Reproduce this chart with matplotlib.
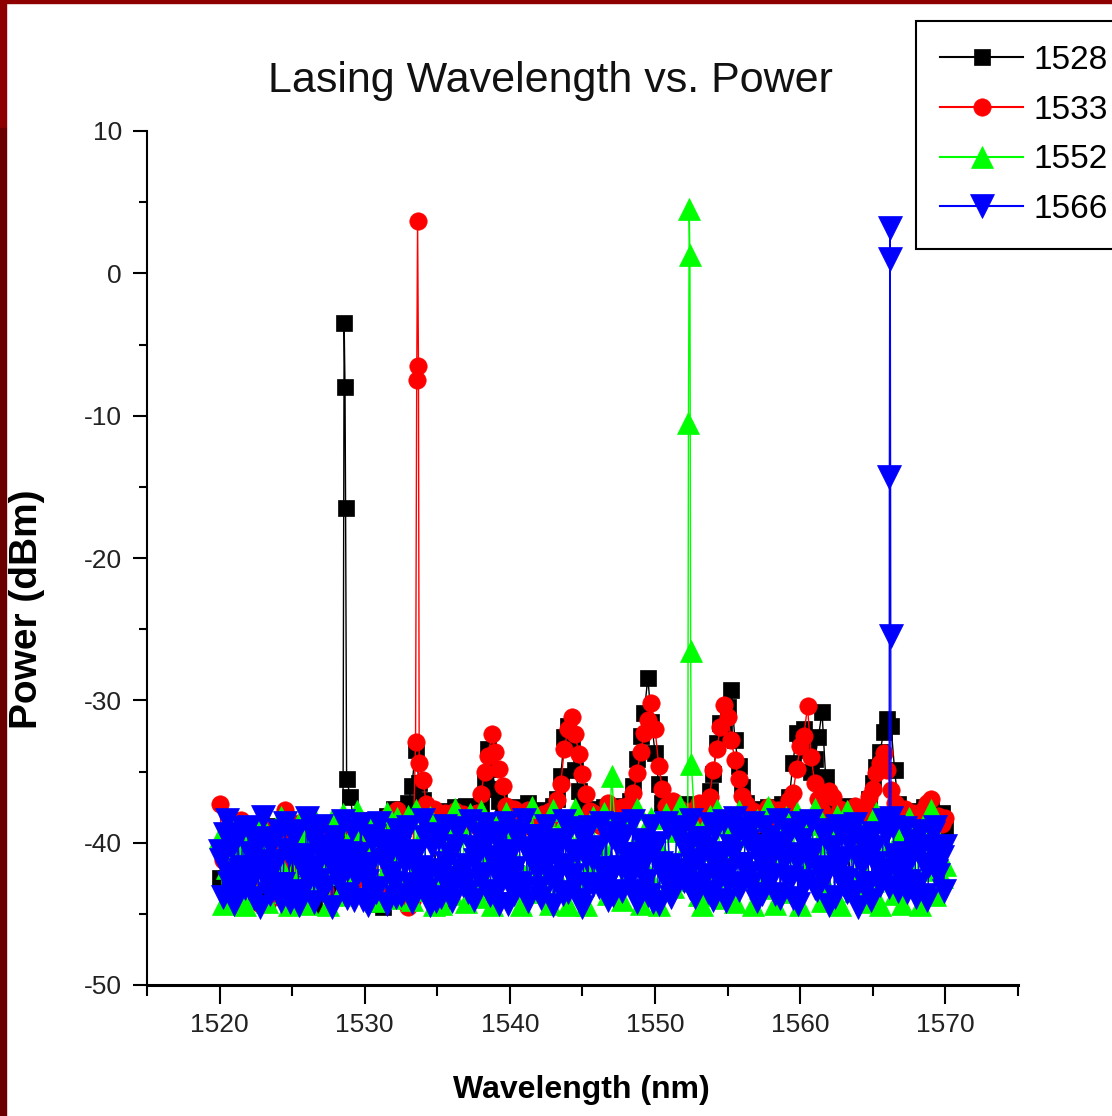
import numpy as np
import matplotlib
matplotlib.use("Agg")
import matplotlib.pyplot as plt
from matplotlib import font_manager
from matplotlib.patches import Rectangle
from matplotlib.ticker import MultipleLocator

# DATA ==================================================================================

# OSA sweep grid, 1520..1570 nm in 0.25 nm steps (201 samples)
wavelength = np.linspace(1520, 1570, 201)
# the 1566 trace was recorded twice as dense (0.125 nm steps)
wavelength_fine = np.linspace(1520, 1570, 401)

p_1528 = [
    -42.5, -40.3, -43.6, -39.1, -41.8, -44.0, -40.6, -38.9, -42.7, -41.2,
    -43.9, -39.7, -41.5, -44.2, -38.8, -42.3, -40.1, -43.4, -39.5, -41.9,
    -44.1, -40.8, -38.7, -42.9, -43.7, -44.3, -44.4, -41.0, -39.3, -42.4,
    -40.2, -43.5, -38.9, -41.4, -39.8, -35.5, -36.8, -38.6, -39.4, -41.6,
    -38.8, -43.0, -38.4, -40.5, -44.3, -44.5, -38.1, -39.2, -37.6, -38.3,
    -37.8, -38.5, -37.2, -36.0, -33.5, -35.8, -37.0, -37.9, -38.4, -38.9,
    -43.9, -44.4, -38.2, -37.8, -38.6, -37.5, -38.9, -38.1, -37.4, -38.3,
    -37.7, -38.5, -37.3, -35.6, -33.4, -34.8, -36.2, -37.1, -38.0, -37.6,
    -38.2, -37.5, -38.8, -37.9, -38.4, -37.2, -38.6, -38.0, -37.7, -38.5,
    -37.8, -38.3, -37.4, -36.9, -35.3, -32.6, -31.8, -33.2, -34.9, -36.4,
    -37.3, -38.1, -37.6, -38.4, -37.9, -38.7, -37.5, -38.2, -37.8, -38.6,
    -37.4, -38.3, -37.9, -37.1, -36.0, -34.1, -32.5, -30.9, -28.4, -31.5,
    -33.7, -35.9, -37.2, -38.1, -37.6, -38.5, -37.8, -38.2, -37.3, -38.0,
    -37.7, -38.4, -37.5, -38.1, -37.2, -36.4, -35.2, -33.0, -31.6, -32.3,
    -30.5, -29.3, -32.8, -34.6, -36.1, -37.2, -38.3, -37.6, -38.8, -37.9,
    -38.4, -37.5, -38.1, -37.7, -38.6, -37.3, -38.2, -36.8, -34.4, -32.3,
    -32.4, -32.0, -33.5, -35.0, -34.1, -32.6, -30.8, -35.4, -37.6, -38.5,
    -37.9, -38.3, -37.4, -38.7, -43.2, -43.4, -38.0, -37.6, -38.4, -36.9,
    -35.8, -34.7, -33.6, -32.2, -31.3, -31.8, -34.9, -37.3, -41.8, -43.1,
    -42.4, -38.6, -37.8, -38.3, -37.5, -38.9, -37.7, -38.2, -38.5, -37.9,
    -38.8,
]
peak_1528_x = [1528.58, 1528.64, 1528.68]
peak_1528_y = [-3.5, -8.0, -16.5]

p_1533 = [
    -37.3, -41.2, -43.5, -39.6, -42.0, -44.1, -38.4, -40.7, -43.0, -39.2,
    -41.9, -44.3, -38.9, -40.4, -42.6, -43.8, -39.9, -41.3, -37.7, -42.8,
    -40.0, -43.6, -38.6, -41.7, -44.2, -39.4, -42.3, -38.8, -40.9, -43.3,
    -39.0, -41.6, -38.9, -42.5, -40.2, -43.7, -38.7, -39.5, -41.0, -43.0,
    -39.3, -41.8, -38.5, -40.6, -43.4, -39.8, -38.2, -42.1, -38.0, -37.7,
    -39.5, -38.3, -44.5, -44.1, -32.9, -34.4, -35.6, -37.3, -38.1, -37.6,
    -38.5, -39.2, -37.9, -38.4, -38.8, -37.8, -38.6, -38.0, -38.9, -38.3,
    -38.7, -37.9, -36.6, -35.0, -33.9, -32.4, -33.6, -34.8, -36.0, -37.4,
    -38.9, -37.6, -38.4, -39.0, -38.1, -37.7, -38.6, -38.3, -38.9, -38.0,
    -38.5, -37.8, -38.2, -37.0, -35.9, -33.4, -32.0, -31.2, -32.4, -33.8,
    -35.2, -36.6, -37.8, -37.9, -38.3, -38.8, -38.0, -37.2, -38.4, -37.6,
    -38.1, -37.5, -38.6, -37.3, -36.5, -35.1, -33.6, -32.3, -31.4, -30.2,
    -32.0, -34.6, -36.2, -37.4, -38.5, -37.1, -38.3, -37.6, -38.8, -38.1,
    -37.8, -38.4, -37.2, -38.6, -37.5, -36.8, -34.9, -33.4, -31.9, -30.3,
    -31.2, -32.8, -34.2, -35.5, -36.7, -37.3, -38.2, -37.8, -38.7, -38.0,
    -38.4, -37.5, -38.1, -38.6, -37.7, -38.3, -37.9, -37.0, -36.5, -34.8,
    -33.2, -32.5, -30.4, -34.0, -35.8, -36.9, -37.8, -38.4, -36.4, -36.8,
    -38.2, -37.6, -38.5, -38.0, -38.7, -37.4, -38.3, -37.7, -37.6, -36.8,
    -36.2, -35.1, -34.4, -33.7, -34.9, -36.3, -37.2, -38.0, -38.4, -37.6,
    -38.6, -37.9, -38.3, -38.7, -37.6, -37.2, -36.9, -38.5, -38.1, -38.7,
    -38.3,
]
peak_1533_x = [1533.58, 1533.64, 1533.70]
peak_1533_y = [-7.5, 3.7, -6.5]

p_1552 = [
    -39.6, -44.3, -41.8, -38.7, -43.1, -40.4, -42.6, -44.4, -39.2, -41.5,
    -43.8, -38.5, -40.9, -44.2, -42.0, -39.4, -41.3, -38.2, -43.5, -44.4,
    -40.1, -42.8, -38.6, -39.8, -44.3, -41.7, -38.3, -43.0, -40.6, -42.2,
    -44.4, -38.4, -41.0, -43.7, -38.0, -40.3, -42.9, -39.1, -37.8, -41.9,
    -43.4, -38.6, -40.7, -44.1, -39.5, -42.4, -37.9, -41.2, -43.9, -38.3,
    -40.5, -42.7, -38.1, -44.0, -37.7, -41.6, -43.3, -39.0, -38.2, -44.4,
    -42.1, -44.3, -38.9, -40.2, -43.6, -37.6, -41.4, -39.3, -44.2, -38.0,
    -42.5, -40.8, -37.8, -43.8, -41.1, -44.4, -38.7, -40.0, -42.3, -37.9,
    -39.7, -43.2, -41.5, -44.4, -38.4, -42.0, -37.5, -40.4, -43.5, -39.1,
    -41.8, -44.3, -37.7, -40.6, -42.9, -38.5, -44.4, -41.2, -37.6, -43.0,
    -39.4, -44.4, -41.7, -38.2, -42.4, -40.1, -37.9, -43.6, -35.3, -38.8,
    -41.3, -44.0, -38.5, -42.7, -40.3, -37.6, -44.3, -39.6, -42.1, -38.3,
    -43.4, -44.4, -40.7, -38.0, -41.9, -43.1, -39.2, -37.4, -42.6, -40.0,
    -34.5, -38.9, -43.7, -44.4, -40.5, -38.1, -42.2, -37.7, -41.0, -43.9,
    -38.6, -40.9, -44.2, -37.8, -42.5, -39.5, -41.6, -44.4, -38.4, -43.2,
    -40.2, -37.5, -42.8, -44.3, -39.0, -41.4, -38.2, -43.5, -40.6, -37.9,
    -44.4, -41.7, -38.7, -42.3, -37.6, -40.0, -44.1, -43.0, -39.3, -41.1,
    -38.1, -44.4, -42.0, -37.8, -40.5, -43.4, -38.9, -41.8, -44.2, -39.4,
    -42.7, -37.9, -44.4, -40.8, -38.5, -42.1, -43.6, -39.7, -44.3, -41.3,
    -38.3, -43.1, -40.1, -44.4, -38.8, -41.9, -37.7, -43.7, -39.8, -42.4,
    -41.6,
]
peak_1552_x = [1552.30, 1552.35, 1552.40, 1552.45]
peak_1552_y = [-10.5, 4.5, 1.3, -26.5]

# 1566 trace: samples on the 0.25 nm grid ...
p_1566 = [
    -40.6, -43.8, -38.4, -42.1, -44.3, -39.5, -41.7, -43.2, -38.9, -42.6,
    -40.1, -44.5, -38.2, -41.3, -43.6, -39.8, -42.9, -44.1, -38.6, -40.9,
    -43.4, -39.2, -44.4, -41.8, -38.3, -42.4, -44.2, -40.4, -38.8, -43.1,
    -41.1, -44.5, -39.6, -42.7, -38.5, -43.9, -40.7, -44.0, -41.5, -38.7,
    -42.3, -44.4, -39.9, -43.5, -38.6, -41.2, -44.3, -40.3, -42.8, -39.1,
    -43.7, -41.4, -38.9, -44.2, -40.8, -42.2, -38.4, -43.3, -44.4, -39.4,
    -41.9, -43.8, -38.8, -42.5, -44.1, -40.2, -39.0, -43.0, -41.6, -38.5,
    -44.0, -40.5, -42.6, -38.7, -43.4, -41.0, -39.3, -44.3, -42.0, -38.6,
    -40.9, -43.6, -39.7, -42.8, -38.4, -44.1, -41.3, -39.5, -43.2, -40.0,
    -38.8, -42.4, -44.4, -39.8, -41.7, -38.5, -43.5, -40.6, -42.9, -39.2,
    -44.5, -41.1, -38.9, -43.0, -40.3, -38.6, -42.2, -44.0, -39.6, -41.8,
    -38.7, -43.4, -40.8, -42.5, -38.5, -44.2, -39.9, -41.4, -43.7, -38.8,
    -40.4, -44.3, -42.0, -38.6, -41.6, -43.1, -39.3, -38.9, -42.7, -40.1,
    -38.4, -43.8, -41.2, -39.7, -42.3, -38.7, -44.0, -40.7, -41.9, -38.5,
    -42.8, -40.2, -38.3, -43.3, -41.5, -39.0, -42.1, -38.6, -44.1, -40.5,
    -38.9, -42.6, -41.0, -43.6, -38.4, -40.0, -42.4, -39.4, -43.9, -41.3,
    -38.6, -42.9, -40.6, -38.5, -43.2, -41.8, -39.1, -42.2, -44.4, -40.3,
    -38.8, -42.5, -41.1, -43.5, -39.6, -38.7, -44.5, -41.6, -40.2, -42.8,
    -39.3, -41.4, -43.0, -38.4, -42.0, -38.3, -40.9, -43.4, -41.7, -39.0,
    -42.7, -40.1, -43.8, -39.2, -41.5, -44.0, -40.4, -38.9, -42.3, -41.0,
    -40.2,
]
# ... and the samples half-way between them
p_1566_mid = [
    -41.2, -39.4, -42.8, -40.3, -43.5, -41.9, -39.0, -42.3, -40.7, -43.9,
    -41.6, -39.7, -42.5, -40.0, -43.1, -41.4, -39.2, -42.9, -40.5, -44.2,
    -39.6, -41.0, -43.7, -42.2, -40.9, -39.3, -41.7, -42.6, -43.3, -40.2,
    -41.3, -39.8, -42.0, -40.6, -43.6, -41.8, -39.1, -42.4, -40.8, -44.0,
    -42.7, -41.5, -39.5, -43.2, -40.1, -39.9, -41.1, -42.1, -43.8, -40.4,
    -41.0, -39.3, -42.9, -40.6, -43.4, -41.7, -39.6, -42.3, -40.2, -44.1,
    -39.7, -42.5, -41.4, -40.8, -43.0, -39.1, -41.9, -42.7, -43.5, -40.3,
    -41.2, -39.4, -42.2, -40.0, -43.7, -41.5, -39.8, -42.8, -40.6, -44.3,
    -42.4, -41.8, -39.2, -43.3, -40.4, -41.0, -39.5, -42.0, -43.9, -40.9,
    -41.3, -39.9, -42.6, -40.2, -43.6, -41.6, -39.0, -42.3, -40.7, -44.0,
    -39.6, -42.9, -41.1, -40.5, -43.1, -41.8, -39.3, -42.5, -43.7, -40.1,
    -41.7, -39.5, -42.1, -40.8, -43.4, -41.2, -39.8, -42.7, -40.3, -44.2,
    -40.0, -41.4, -42.4, -39.0, -43.8, -41.9, -39.4, -42.2, -40.6, -43.2,
    -41.6, -39.7, -42.8, -40.4, -43.5, -41.1, -39.2, -42.6, -40.9, -44.1,
    -42.0, -40.7, -39.3, -43.0, -41.5, -39.9, -42.9, -40.2, -41.0, -43.6,
    -41.8, -39.6, -42.3, -40.1, -43.9, -41.3, -39.1, -42.5, -40.8, -44.3,
    -39.8, -42.7, -41.2, -40.5, -43.3, -41.7, -39.5, -42.1, -40.4, -43.8,
    -41.5, -39.2, -42.6, -40.0, -43.6, -41.0, -39.7, -42.8, -40.6, -44.0,
    -40.3, -41.9, -42.2, -39.4, -43.1, -38.9, -41.4, -42.4, -40.7, -43.5,
    -41.1, -39.9, -42.9, -40.2, -43.7, -41.6, -39.3, -42.0, -40.5, -43.4,
]
peak_1566_x = [1566.14, 1566.17, 1566.20, 1566.23]
peak_1566_y = [-14.3, 3.2, 1.0, -25.5]

labels = ["1528", "1533", "1552", "1566"]
colors = ["#000000", "#FF0000", "#00FF00", "#0000FF"]
markers = ["s", "o", "^", "v"]
marker_sizes = [11, 12.5, 16.5, 17.5]


# FONTS =================================================================================

try:
    font_manager.findfont("Liberation Sans Narrow", fallback_to_default=False)
    narrow = True
except ValueError:
    narrow = False

plt.rcParams["font.family"] = ["Liberation Sans", "DejaVu Sans"]
plt.rcParams["axes.unicode_minus"] = False
narrow_family = ["Liberation Sans Narrow", "Liberation Sans"] if narrow else ["Liberation Sans"]
title_size = 38 if narrow else 31
tick_size = 23 if narrow else 19


# PLOT ==================================================================================

W, H = 1112, 1116
fig = plt.figure(figsize=(W / 100, H / 100), dpi=100)
fig.patch.set_facecolor("white")

# dark red slide border (top and left)
fig.patches.append(Rectangle((0, 1 - 3 / H), 1, 3 / H, transform=fig.transFigure,
                             color="#8E0000", zorder=0))
fig.patches.append(Rectangle((0, 1 - 128 / H), 6 / W, 128 / H, transform=fig.transFigure,
                             color="#8E0000", zorder=0))
fig.patches.append(Rectangle((0, 0), 6 / W, 1 - 128 / H, transform=fig.transFigure,
                             color="#6A0000", zorder=0))

ax = fig.add_axes([147 / W, 1 - 985 / H, (1018 - 147) / W, (985 - 131) / H])

blue_base = np.empty(401)
blue_base[0::2] = p_1566
blue_base[1::2] = p_1566_mid

series = [
    (wavelength, p_1528, peak_1528_x, peak_1528_y),
    (wavelength, p_1533, peak_1533_x, peak_1533_y),
    (wavelength, p_1552, peak_1552_x, peak_1552_y),
    (wavelength_fine, blue_base, peak_1566_x, peak_1566_y),
]

handles = []
for (wl, base, px, py), lab, c, m, ms in zip(series, labels, colors, markers, marker_sizes):
    x = np.concatenate([wl, px])
    y = np.concatenate([base, py])
    order = np.argsort(x, kind="stable")
    h, = ax.plot(x[order], y[order], color=c, lw=1.0, marker=m, ms=ms,
                 mec=c, mfc=c, mew=0.5, label=lab)
    handles.append(h)

ax.set_xlim(1515, 1575)
ax.set_ylim(-50, 10)
ax.set_xticks(range(1520, 1571, 10))
ax.set_yticks(range(-50, 11, 10))
ax.xaxis.set_minor_locator(MultipleLocator(5))
ax.yaxis.set_minor_locator(MultipleLocator(5))

for side in ["top", "right"]:
    ax.spines[side].set_visible(False)
ax.spines["left"].set_linewidth(1.5)
ax.spines["bottom"].set_linewidth(2.2)

ax.tick_params(axis="y", which="major", direction="out", length=10, width=1.5, pad=8,
               labelsize=tick_size, labelcolor="#222222")
ax.tick_params(axis="y", which="minor", direction="out", length=6, width=1.5)
ax.tick_params(axis="x", which="major", direction="out", length=14, width=1.5, pad=6,
               labelsize=tick_size, labelcolor="#222222")
ax.tick_params(axis="x", which="minor", direction="out", length=8, width=1.5)
for lab in ax.get_xticklabels() + ax.get_yticklabels():
    lab.set_family(narrow_family)

fig.text(550 / W, 1 - 92 / H, "Lasing Wavelength vs. Power", ha="center", va="baseline",
         fontsize=title_size, family=narrow_family, color="#111111")
fig.text(581 / W, 1 - 1090 / H, "Wavelength (nm)", ha="center", va="center",
         fontsize=23, fontweight="bold")
fig.text(27 / W, 1 - 609 / H, "Power (dBm)", ha="center", va="center", rotation=90,
         fontsize=28, fontweight="bold")

leg = fig.legend(handles=handles, loc="upper left", bbox_to_anchor=(916 / W, 1 - 21 / H),
                 borderaxespad=0, fontsize=24, numpoints=1, handlelength=2.5,
                 handletextpad=0.3, labelspacing=0.56, borderpad=0.72,
                 fancybox=False, framealpha=1, edgecolor="black")
leg.get_frame().set_linewidth(1.5)
for line in leg.get_lines():
    line.set_linewidth(1.5)

fig.savefig("out.png", dpi=100, facecolor="white")
